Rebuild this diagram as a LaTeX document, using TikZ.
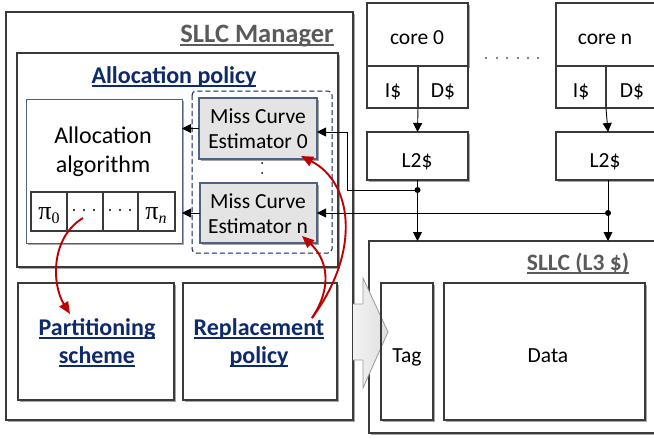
\documentclass[tikz,border=0pt]{standalone}
\usepackage{fontspec}
\setmainfont{Carlito}
\newfontfamily\grk{Liberation Serif}
\usetikzlibrary{shadows,arrows.meta}

\definecolor{boxline}{HTML}{3A3A3A}
\definecolor{blueline}{HTML}{4F6282}
\definecolor{navy}{HTML}{0E2A6B}
\definecolor{titlegray}{HTML}{5A5A5A}
\definecolor{estfill}{HTML}{E4E4E4}
\definecolor{redarrow}{HTML}{C00000}

% underline drawn a fixed distance below the baseline
\newlength\ulw
\newcommand\ulbox[1]{\settowidth{\ulw}{#1}\rlap{\rule[-3.6pt]{\ulw}{1.7pt}}#1}

\begin{document}
\begin{tikzpicture}[x=1pt,y=-1pt,
  shadowed/.style={drop shadow={shadow xshift=1.8pt,shadow yshift=-1.8pt,opacity=0.35,fill=black}},
  box/.style={draw=boxline,line width=1.1pt,fill=white,inner sep=0pt,outer sep=0pt,
    anchor=north west,shadowed},
  bbox/.style={box,draw=blueline},
  est/.style={box,draw=blueline,fill=estfill},
  cell/.style={draw=boxline,line width=1.1pt,fill=white,inner sep=0pt,outer sep=0pt,anchor=north west},
  txt/.style={anchor=base,inner sep=0pt,font=\fontsize{21.5}{24}\selectfont},
  title/.style={anchor=base,inner sep=0pt,font=\fontsize{24}{26}\selectfont\bfseries},
  arr/.style={line width=0.9pt,black,-{Triangle[length=9pt,width=9pt]}},
  wire/.style={line width=0.9pt,black},
  redarr/.style={line width=1.9pt,redarrow,-{Triangle[length=12pt,width=10pt]}},
  junction/.style={circle,fill=black,inner sep=0pt,minimum size=6pt},
]
\useasboundingbox (0,0) rectangle (654,439);

% ---------------- SLLC manager ----------------
\node[box,minimum width=347pt,minimum height=408pt] (mgr) at (6,12) {};
\node[title,text=titlegray,font=\fontsize{26.5}{28}\selectfont\bfseries] (mgrlbl) at (257,42) {\ulbox{SLLC Manager}};

\node[box,minimum width=321pt,minimum height=214pt] (alloc) at (17,53) {};
\node[title,text=navy] (alloclbl) at (174,83) {\ulbox{Allocation policy}};

\node[bbox,line width=1pt,minimum width=156pt,minimum height=144pt] (algo) at (26,99) {};
\node[txt,font=\fontsize{24}{26}\selectfont] (algo1) at (103,143) {Allocation};
\node[txt,font=\fontsize{24}{26}\selectfont] (algo2) at (103,172) {algorithm};

% partition vector
\node[cell,minimum width=36pt,minimum height=39pt] (pi0) at (31,192) {};
\node[cell,minimum width=36pt,minimum height=39pt] (pi1) at (67,192) {};
\node[cell,minimum width=35pt,minimum height=39pt] (pi2) at (103,192) {};
\node[cell,minimum width=37pt,minimum height=39pt] (pin) at (138,192) {};
\node[txt,font=\fontsize{26}{28}\selectfont\grk] at (49,219) {π\raisebox{-4pt}{\fontsize{16}{16}\selectfont 0}};
\node[txt,font=\fontsize{26}{28}\selectfont\grk] at (156,219) {π\raisebox{-4pt}{\fontsize{16}{16}\selectfont\itshape n}};
\foreach \cx in {74,84,94, 110,120,130}
  \fill (\cx,210) circle (1.1pt);

% miss curve estimators
\draw[navy!80!black,line width=1pt,dashed,dash pattern=on 5pt off 3pt,rounded corners=4pt]
  (192,91) rectangle (332,253);
\node[est,minimum width=118pt,minimum height=61pt] (mce0) at (199,98) {};
\node[txt] at (258,123) {Miss Curve};
\node[txt] at (258,148) {Estimator 0};
\fill (262,163) circle (1pt) (262,173) circle (1pt);
\node[est,minimum width=117pt,minimum height=60pt] (mcen) at (200,183) {};
\node[txt] at (258,208) {Miss Curve};
\node[txt] at (258,233) {Estimator n};

\draw[arr] (mce0.west) -- (mce0.west -| algo.east);
\draw[arr] (mcen.west) -- (mcen.west -| algo.east);

% partitioning and replacement
\node[box,minimum width=156pt,minimum height=117pt] (part) at (18,283) {};
\node[title,text=navy] at (97,335) {\ulbox{Partitioning}};
\node[title,text=navy] at (97,363) {\ulbox{scheme}};
\node[box,minimum width=154pt,minimum height=117pt] (repl) at (183,283) {};
\node[title,text=navy] at (259,335) {\ulbox{Replacement}};
\node[title,text=navy] at (259,363) {\ulbox{policy}};

% ---------------- cores and private caches ----------------
\node[box,minimum width=101pt,minimum height=63pt] (core0) at (367,3) {};
\node[cell,minimum width=51pt,minimum height=42pt] (core0i) at (367,66) {};
\node[cell,minimum width=50pt,minimum height=42pt] (core0d) at (418,66) {};
\node[txt] at (417,44) {core 0};
\node[txt] at (393,97) {I\$};
\node[txt] at (443,97) {D\$};
\node[box,minimum width=101pt,minimum height=48pt] (l2a) at (367,132) {};
\node[txt] at (417,167) {L2\$};

\node[box,minimum width=104pt,minimum height=63pt] (coren) at (556,3) {};
\node[cell,minimum width=50pt,minimum height=42pt] (coreni) at (556,66) {};
\node[cell,minimum width=54pt,minimum height=42pt] (corend) at (606,66) {};
\node[txt] at (605,44) {core n};
\node[txt] at (581,97) {I\$};
\node[txt] at (632,97) {D\$};
\node[box,minimum width=104pt,minimum height=48pt] (l2b) at (556,132) {};
\node[txt] at (605,167) {L2\$};

\foreach \cx in {486,497,507,518,528,538}
  \fill (\cx,58) circle (0.9pt);

% ---------------- shared last level cache ----------------
\node[box,minimum width=300pt,minimum height=192pt] (sllc) at (369,241) {};
\node[title,text=titlegray,font=\fontsize{23.5}{26}\selectfont\bfseries] at (578,270) {\ulbox{SLLC (L3 \$)}};

\node[box,minimum width=52pt,minimum height=137pt] (tag) at (381,283) {};
\node[box,minimum width=201pt,minimum height=137pt] (data) at (444,283) {};

% block arrow from the manager into the cache
\shade[left color=gray!10,right color=gray!25,draw=gray!80,line width=0.8pt]
  (353,304) -- (363,304) -- (363,278) -- (388,332) -- (363,388) -- (363,360) -- (353,360);
\draw[draw=boxline,line width=1.1pt] (tag.north west) rectangle (tag.south east);

\node[txt] at (407,362) {Tag};
\node[txt] at (548,362) {Data};

% ---------------- connections ----------------
\draw[arr] (core0i.south east) -- (l2a.north);
\draw[arr] (coreni.south east) -- (l2b.north);
\draw[arr] (l2a.south) -- (l2a.south |- sllc.north);
\draw[arr] (l2b.south) -- (l2b.south |- sllc.north);

\node[junction] (j0) at (l2a.south |- 0,190) {};
\node[junction] (jn) at (l2b.south |- 0,213) {};
\coordinate (b0) at (347,190);
\coordinate (b0t) at (347,132);
\draw[wire] (j0.center) -- (b0) -- (b0t);
\draw[arr] (b0t) -- (mce0.east |- b0t);
\draw[arr] (jn.center) -- (mcen.east |- jn);

% curved control arrows
\coordinate (pisrc) at (83,218);
\coordinate (replsrc) at (312,318);
\draw[redarr] (pisrc) .. controls (50,238) and (52,285) .. (70,314);
\draw[redarr] (replsrc) .. controls (334,285) and (326,258) .. (302,236);
\draw[redarr] (replsrc) .. controls (362,250) and (352,182) .. (301,156);
\end{tikzpicture}
\end{document}
